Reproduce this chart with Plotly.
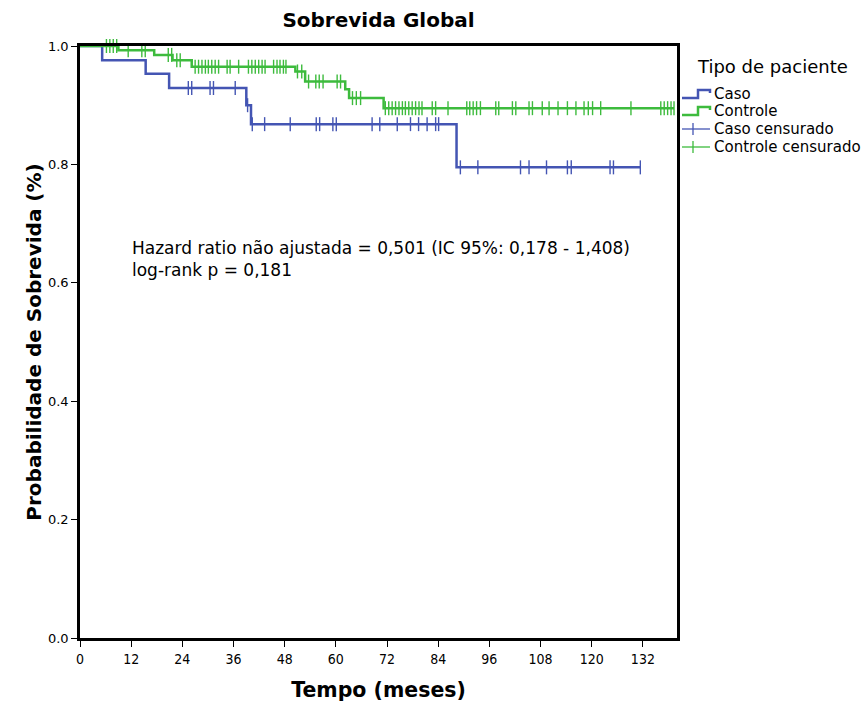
import numpy as np
import plotly.graph_objects as go

# Kaplan-Meier steps: event times (months) and survival after each event
caso_event_t = [5.2, 15.4, 20.9, 39.0, 40.1, 88.3]
caso_event_s = [0.976, 0.953, 0.929, 0.900, 0.868, 0.795]
caso_end_t = 131.4
caso_cens_t = [25.4, 26.2, 30.5, 31.3, 36.4, 39.3, 40.4, 43.3, 49.3, 55.4, 56.2,
               59.3, 60.1, 68.5, 70.3, 74.4, 77.5, 79.4, 81.4, 83.4, 84.1,
               89.2, 93.3, 103.3, 105.3, 109.4, 114.3, 115.2, 124.3, 125.1, 131.4]

controle_event_t = [9.0, 17.4, 21.7, 26.2, 50.5, 52.8, 62.2, 63.1, 71.2]
controle_event_s = [0.993, 0.985, 0.976, 0.965, 0.957, 0.940, 0.927, 0.912, 0.895]
controle_end_t = 139.3
controle_cens_t = [6.2, 7.0, 7.8, 8.6, 11.3, 14.5, 15.3, 20.7, 21.5, 22.7, 23.5,
                   27.0, 27.8, 28.6, 29.4, 30.1, 30.9, 31.7, 32.5, 34.5, 35.2, 37.2,
                   39.5, 40.3, 41.1, 41.9, 42.7, 43.4, 45.4, 46.2, 46.9, 47.7, 48.3,
                   51.0, 52.0, 53.6, 55.3, 56.1, 57.0, 60.3, 61.1, 63.9, 64.8, 65.8,
                   71.6, 72.4, 73.2, 74.0, 74.8, 75.6, 76.3, 77.1, 77.9, 78.7, 79.5,
                   80.2, 82.6, 83.4, 86.3, 90.7, 91.4, 92.2, 93.0, 93.9, 97.5, 98.2,
                   101.4, 102.2, 105.3, 106.1, 108.4, 110.0, 112.1, 114.3, 116.3,
                   118.2, 119.2, 120.2, 122.1, 129.2, 136.2, 137.0, 137.8, 138.6, 139.3]

x_ticks = [0, 12, 24, 36, 48, 60, 72, 84, 96, 108, 120, 132]
y_ticks = [0.0, 0.2, 0.4, 0.6, 0.8, 1.0]

stats_lines = ["Hazard ratio não ajustada = 0,501 (IC 95%: 0,178 - 1,408)",
               "log-rank p = 0,181"]

BLUE = "#4455b3"
GREEN = "#3dbb3d"

W, H = 862, 704
L, R, T, B = 80, 677, 46, 638


def px(x, y):
    """pixel position -> paper coordinates"""
    return (x - L) / (R - L), (B - y) / (B - T)


def step_xy(ev_t, ev_s, end_t):
    xs = [0.0] + list(ev_t) + [end_t]
    ys = [1.0] + list(ev_s) + [ev_s[-1]]
    return xs, ys


def level_at(ev_t, ev_s, t):
    levels = np.array([1.0] + list(ev_s))
    idx = np.searchsorted(np.array(ev_t), np.array(t), side="right")
    return levels[idx]


fig = go.Figure()
for ev_t, ev_s, end_t, cens, col, name in [
    (caso_event_t, caso_event_s, caso_end_t, caso_cens_t, BLUE, "Caso"),
    (controle_event_t, controle_event_s, controle_end_t, controle_cens_t, GREEN, "Controle"),
]:
    xs, ys = step_xy(ev_t, ev_s, end_t)
    fig.add_trace(go.Scatter(x=xs, y=ys, mode="lines", line=dict(color=col, width=2.5, shape="hv"),
                             name=name, showlegend=False, hoverinfo="skip"))
    fig.add_trace(go.Scatter(x=cens, y=level_at(ev_t, ev_s, cens), mode="markers",
                             marker=dict(symbol="line-ns", size=10, line=dict(color=col, width=1.4)),
                             name=name + " censurado", showlegend=False, cliponaxis=False))

fig.update_xaxes(range=[0, 140], tickvals=x_ticks, ticktext=[str(v) for v in x_ticks],
                 ticks="outside", ticklen=6, tickwidth=1, tickcolor="black",
                 showline=True, linecolor="black", linewidth=2.5, mirror=True,
                 showgrid=False, zeroline=False, automargin=False,
                 tickfont=dict(family="Liberation Sans Narrow, DejaVu Sans Condensed", size=14, color="black"),
                 title=dict(text="<b>Tempo (meses)</b>", standoff=18,
                            font=dict(family="DejaVu Sans", size=20.5, color="black")))
fig.update_yaxes(range=[0, 1.0], tickvals=y_ticks, tickformat=".1f",
                 ticks="outside", ticklen=6, tickwidth=1, tickcolor="black",
                 showline=True, linecolor="black", linewidth=2.5, mirror=True,
                 showgrid=False, zeroline=False, automargin=False,
                 tickfont=dict(family="DejaVu Sans", size=13, color="black"),
                 title=dict(text="<b>Probabilidade de Sobrevida (%)</b>", standoff=1,
                            font=dict(family="DejaVu Sans", size=20, color="black")))

# statistics text
ax, ay = px(130, 259)
fig.add_annotation(x=ax, y=ay, xref="paper", yref="paper", xanchor="left", yanchor="middle",
                   text="<br>".join(stats_lines), showarrow=False, align="left",
                   font=dict(family="DejaVu Sans", size=17, color="black"))

# legend block
lx, ly = px(695, 66)
fig.add_annotation(x=lx, y=ly, xref="paper", yref="paper", xanchor="left", yanchor="middle",
                   text="Tipo de paciente", showarrow=False,
                   font=dict(family="DejaVu Sans", size=18, color="black"))
legend_items = [("Caso", BLUE, "step", 94), ("Controle", GREEN, "step", 111),
                ("Caso censurado", BLUE, "cens", 129), ("Controle censurado", GREEN, "cens", 147)]
for label, col, kind, yc in legend_items:
    if kind == "step":
        pts = [(682, yc + 4), (698, yc + 4), (698, yc - 4), (710, yc - 4), (710, yc - 1)]
        path = "M " + " L ".join("%f,%f" % px(a, b) for a, b in pts)
        fig.add_shape(type="path", path=path, xref="paper", yref="paper",
                      line=dict(color=col, width=2.5))
    else:
        x0, y0 = px(682, yc)
        x1, _ = px(710, yc)
        fig.add_shape(type="line", x0=x0, x1=x1, y0=y0, y1=y0, xref="paper", yref="paper",
                      line=dict(color=col, width=1.3))
        xm, ya = px(693, yc - 6)
        _, yb = px(693, yc + 6)
        fig.add_shape(type="line", x0=xm, x1=xm, y0=ya, y1=yb, xref="paper", yref="paper",
                      line=dict(color=col, width=1.3))
    tx, ty = px(712, yc)
    fig.add_annotation(x=tx, y=ty, xref="paper", yref="paper", xanchor="left", yanchor="middle",
                       text=label, showarrow=False,
                       font=dict(family="DejaVu Sans", size=15, color="black"))

fig.update_layout(
    width=W, height=H,
    margin=dict(l=L, r=W - R, t=T, b=H - B, autoexpand=False),
    paper_bgcolor="white", plot_bgcolor="white",
    title=dict(text="<b>Sobrevida Global</b>", x=(L + R) / 2 / W, xanchor="center",
               y=1 - 20 / H, yanchor="middle",
               font=dict(family="DejaVu Sans", size=20, color="black")),
    showlegend=False,
)

fig.write_html("out.html")
